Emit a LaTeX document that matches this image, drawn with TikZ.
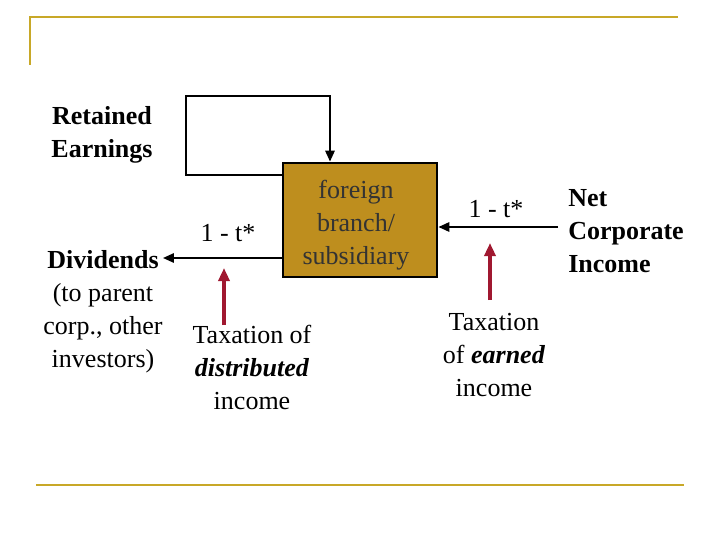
\documentclass[tikz,border=0pt]{standalone}
\usepackage{fontspec}
\setmainfont{Liberation Serif}
\usetikzlibrary{arrows.meta}
\definecolor{gold}{RGB}{200,168,40}
\definecolor{boxfill}{RGB}{190,142,30}
\definecolor{dred}{RGB}{160,24,48}
\begin{document}
\begin{tikzpicture}[x=1pt,y=-1pt,
  txt/.style={font=\fontsize{26}{33}\selectfont,align=center,inner sep=0pt},
  btxt/.style={txt,font=\fontsize{26}{33}\selectfont\bfseries},
  blk/.style={line width=2.5pt,-{Triangle[length=11pt,width=9pt]}},
  red/.style={dred,line width=4pt,-{Triangle[length=13pt,width=11pt]}}]
\useasboundingbox (0,0) rectangle (720,540);
\draw[gold,line width=1.5pt] (30,65) -- (30,17) -- (678,17);
\draw[gold,line width=1.5pt] (36,485) -- (684,485);
\node[draw,line width=2.5pt,fill=boxfill,minimum width=154pt,minimum height=114pt,inner sep=0pt] (box) at (360,220) {};
\node[txt,text=black!80] (bt) at (356,225) {foreign\\branch/\\subsidiary};
\coordinate (l1) at (186,175);
\coordinate (l2) at (186,96);
\coordinate (l3) at (330,96);
\draw[blk] (box.west|-l1) -- (l1) -- (l2) -- (l3) -- (l3|-box.north);
\node[btxt] (re) at (102,135) {Retained\\Earnings};
\node[btxt] (div) at (103,260) {Dividends};
\node[txt] (par) at (103,328) {(to parent\\corp., other\\investors)};
\node[txt] (t1) at (228,233) {1 - t*};
\node[txt] (tax1) at (252,367) {Taxation of\\\textbf{\textit{distributed}}\\income};
\node[txt] (t2) at (496,209) {1 - t*};
\node[btxt,align=left] (net) at (626,231) {Net\\Corporate\\Income};
\node[txt] (tax2) at (494,355) {Taxation\\of \textbf{\textit{earned}}\\income};
\coordinate (d1) at (283,258);
\draw[blk] (box.west|-d1) -- ([xshift=4pt]div.east|-d1);
\coordinate (n1) at (558,227);
\draw[blk] (n1) -- (box.east|-n1);
\draw[red] (224,325) -- (224,268);
\draw[red] (490,300) -- (490,243);
\end{tikzpicture}
\end{document}
